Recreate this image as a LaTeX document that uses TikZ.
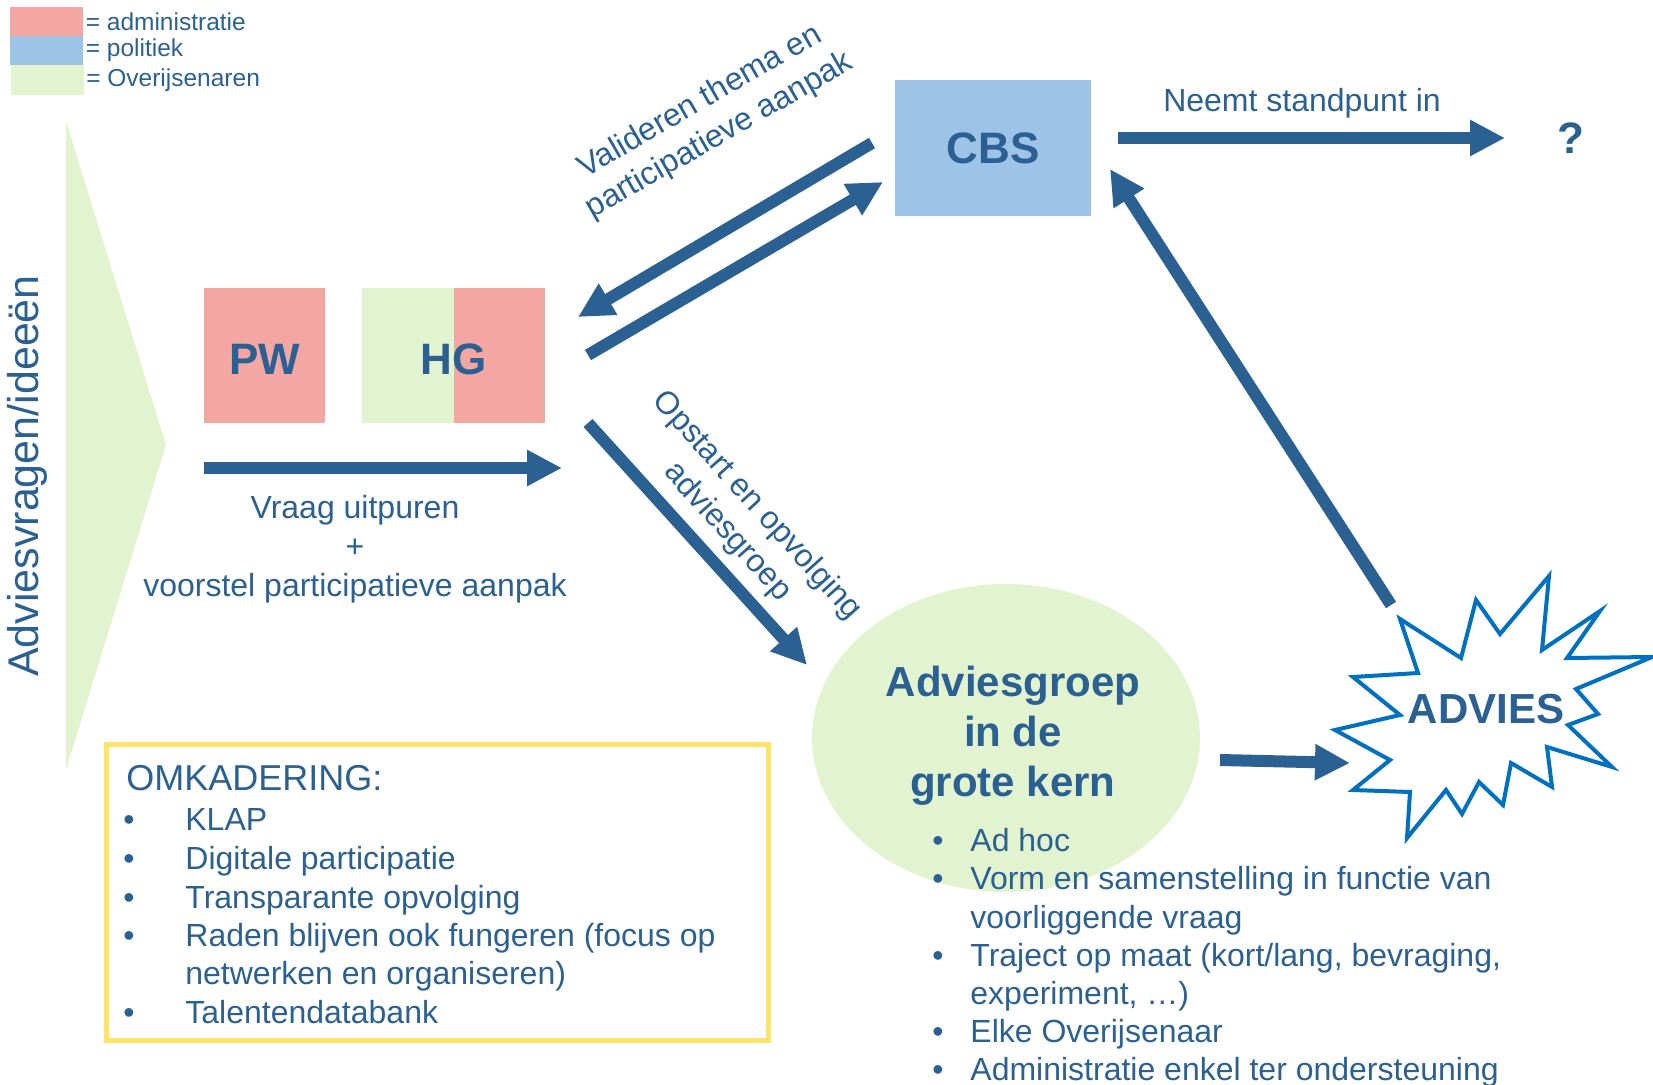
\documentclass[tikz,border=0pt]{standalone}
\usepackage{fontspec}
\setmainfont{Liberation Sans}
\usetikzlibrary{arrows.meta,positioning,shapes.geometric}

\definecolor{tekstblauw}{RGB}{43,96,146}
\definecolor{admin}{RGB}{244,166,162}
\definecolor{politiek}{RGB}{157,195,230}
\definecolor{burger}{RGB}{226,243,208}
\definecolor{kader}{RGB}{255,226,102}
\definecolor{sterblauw}{RGB}{0,112,192}

\begin{document}
\begin{tikzpicture}[x=0.5pt, y=-0.5pt,
  every node/.style={text=tekstblauw, inner sep=0pt},
  pijl/.style={draw=tekstblauw, line width=6pt, -{Triangle[length=17.5pt,width=17pt]}},
  legvak/.style={minimum width=36.5pt, minimum height=14.5pt},
  legtekst/.style={font=\fontsize{12.25}{14}\selectfont},
  vak/.style={minimum height=67.5pt, font=\bfseries\fontsize{22}{26}\selectfont},
  label/.style={font=\fontsize{16}{19.5}\selectfont, align=center},
  lijst/.style={anchor=base west, font=\fontsize{16}{19}\selectfont}
  ]
\useasboundingbox (0,0) rectangle (1653,1085);

% legende
\node [legvak, fill=admin] (leg-admin) at (46.5,21.5) {};
\node [legvak, fill=politiek] (leg-politiek) at (46.5,50.5) {};
\node [legvak, fill=burger, minimum height=15pt] (leg-burger) at (47,80) {};
\node [legtekst, right=1pt of leg-admin] (legt-admin) {= administratie};
\node [legtekst, right=1pt of leg-politiek] (legt-politiek) {= politiek};
\node [legtekst, right=1pt of leg-burger] (legt-burger) {= Overijsenaren};

% instroom
\fill [burger] (66,121) -- (166,445) -- (66,770) -- cycle;
\node [rotate=90, font=\fontsize{21.5}{26}\selectfont] (adviesvragen) at (27,476) {Adviesvragen/ideeën};

\node [vak, fill=admin, minimum width=60.5pt, text height=19pt, text depth=0pt] (pw) at (264.5,355.5) {PW};
\node [vak, fill=admin, minimum width=91.5pt, text height=19pt, text depth=0pt,
  path picture={\fill [burger] (path picture bounding box.south west) rectangle (path picture bounding box.north);}]
  (hg) at (453.5,355.5) {HG};
\node [vak, fill=politiek, minimum width=98pt, minimum height=68pt] (cbs) at (993,148) {CBS};

\node [label] (vraag) at (355,549) {Vraag uitpuren\\+\\voorstel participatieve aanpak};
\node [label, rotate=30] (valideren) at (710,119) {Valideren thema en\\participatieve aanpak};
\node [label, rotate=-48] (opstart) at (742,519) {Opstart en opvolging\\adviesgroep};
\node [label] (standpunt) at (1302,103) {Neemt standpunt in};
\node [font=\bfseries\fontsize{22}{26}\selectfont] (vraagteken) at (1571,138) {?};

% adviesgroep
\node [ellipse, fill=burger, minimum width=194pt, minimum height=154pt] (adviesgroep) at (1006,738) {};
\node [align=center, font=\bfseries\fontsize{21}{25}\selectfont] (adviesgroep-tekst) at (1013,736) {Adviesgroep\\in de\\grote kern};

% advies
\draw [sterblauw, line width=2pt, fill=white] (1400,619) -- (1461,658) -- (1476,600) -- (1500,634)
  -- (1549,576) -- (1542,650) -- (1600,611) -- (1567,658) -- (1652,657) -- (1576,689)
  -- (1598,714) -- (1568,725) -- (1612,767) -- (1547,747) -- (1552,787) -- (1511,763)
  -- (1503,805) -- (1479,782) -- (1462,814) -- (1446,790) -- (1407,838) -- (1410,792)
  -- (1353,790) -- (1390,760) -- (1335,730) -- (1400,715) -- (1353,677) -- (1418,673) -- cycle;
\node [font=\bfseries\fontsize{21}{25}\selectfont] (advies) at (1486,709) {ADVIES};

% pijlen
\coordinate (vraag-start) at (204,468);
\coordinate (vraag-eind) at (562,468);
\coordinate (cbs-uit) at (872,143);
\coordinate (hg-in) at (578,317);
\coordinate (hg-uit) at (588,355);
\coordinate (cbs-in) at (883,182);
\coordinate (hg-onder) at (588,423);
\coordinate (groep-in) at (807,665);
\coordinate (cbs-rechts) at (1118,138);
\coordinate (vraagteken-in) at (1505,138);
\coordinate (groep-uit) at (1220,760);
\coordinate (advies-in) at (1350,763);
\coordinate (advies-uit) at (1391,605);
\coordinate (cbs-onder) at (1110,169);

\draw [pijl] (vraag-start) -- (vraag-eind);
\draw [pijl] (cbs-uit) -- (hg-in);
\draw [pijl] (hg-uit) -- (cbs-in);
\draw [pijl] (hg-onder) -- (groep-in);
\draw [pijl] (cbs-rechts) -- (vraagteken-in);
\draw [pijl] (groep-uit) -- (advies-in);
\draw [pijl] (advies-uit) -- (cbs-onder);

% omkadering
\draw [kader, line width=2.5pt] (106,744) rectangle (768,1040);
\node [anchor=base west, font=\fontsize{18}{21}\selectfont] (omkadering) at (126,790) {OMKADERING:};
\foreach \y/\tekst [count=\i] in {830/KLAP, 869/Digitale participatie, 908/Transparante opvolging,
    946/{Raden blijven ook fungeren (focus op}, 984/{netwerken en organiseren)}, 1023/Talentendatabank}
  \node [lijst] (om-\i) at (185,\y) {\tekst};
\foreach \y [count=\i] in {830,869,908,946,1023}
  \node [lijst] (om-bol-\i) at (123,\y) {\textbullet};

% werking adviesgroep
\foreach \y/\tekst [count=\i] in {851/Ad hoc, 889/Vorm en samenstelling in functie van, 928/voorliggende vraag,
    966/{Traject op maat (kort/lang, bevraging,}, 1004/{experiment, …)}, 1042/Elke Overijsenaar,
    1080/Administratie enkel ter ondersteuning}
  \node [lijst] (ag-\i) at (970,\y) {\tekst};
\foreach \y [count=\i] in {851,889,966,1042,1080}
  \node [lijst] (ag-bol-\i) at (932,\y) {\textbullet};
\end{tikzpicture}
\end{document}
